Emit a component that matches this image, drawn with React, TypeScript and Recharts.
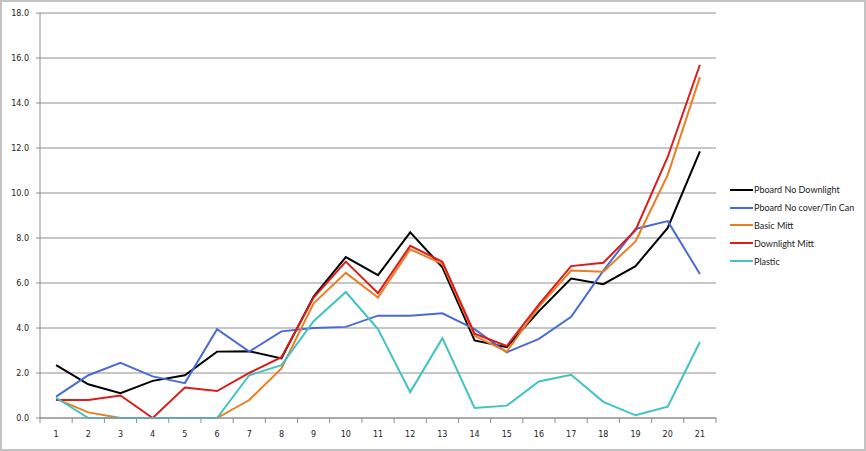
import React from 'react'
import { LineChart, Line, XAxis, YAxis, CartesianGrid } from 'recharts'

// readings per test point
const categories = [1, 2, 3, 4, 5, 6, 7, 8, 9, 10, 11, 12, 13, 14, 15, 16, 17, 18, 19, 20, 21]

const pboardNoDownlight = [2.35, 1.5, 1.1, 1.65, 1.9, 2.95, 2.97, 2.65, 5.4, 7.15, 6.35, 8.25, 6.7, 3.45, 3.15, 4.75, 6.2, 5.95, 6.75, 8.45, 11.85]
const pboardTinCan = [0.95, 1.9, 2.45, 1.85, 1.55, 3.95, 2.95, 3.85, 4.0, 4.05, 4.55, 4.55, 4.65, 3.95, 2.92, 3.52, 4.5, 6.55, 8.4, 8.75, 6.4]
const basicMitt = [0.85, 0.25, 0, 0, 0, 0, 0.8, 2.2, 5.1, 6.45, 5.35, 7.5, 6.85, 3.65, 2.95, 4.95, 6.55, 6.5, 7.85, 10.8, 15.15]
const downlightMitt = [0.8, 0.8, 1.0, 0, 1.35, 1.2, 2.0, 2.7, 5.35, 6.95, 5.55, 7.65, 6.95, 3.75, 3.2, 5.05, 6.75, 6.9, 8.35, 11.6, 15.7]
const plastic = [0.9, 0, 0, 0, 0, 0, 1.9, 2.35, 4.3, 5.6, 3.95, 1.15, 3.55, 0.45, 0.55, 1.62, 1.92, 0.72, 0.12, 0.5, 3.38]

const yTicks = [0, 2, 4, 6, 8, 10, 12, 14, 16, 18]

const series = [
    { key: 'pboardNoDownlight', name: 'Pboard No Downlight', color: '#000000', values: pboardNoDownlight },
    { key: 'pboardTinCan', name: 'Pboard No cover/Tin Can', color: '#4a6bd6', values: pboardTinCan },
    { key: 'basicMitt', name: 'Basic Mitt', color: '#ec7d22', values: basicMitt },
    { key: 'downlightMitt', name: 'Downlight Mitt', color: '#dc1b1b', values: downlightMitt },
    { key: 'plastic', name: 'Plastic', color: '#3fc3c3', values: plastic },
]

const data = categories.map((c, i) => {
    const row: any = { x: c }
    series.forEach(s => { row[s.key] = s.values[i] })
    return row
})

const W = 866
const H = 451
const margin = { top: 13, right: 150, bottom: 3, left: 0 }
const yAxisWidth = 40
const halfBand = (W - yAxisWidth - margin.right) / categories.length / 2
const gridColor = '#8e8e8e'
const tickFont = { fontSize: 8, fill: '#222', fontFamily: 'DejaVu Sans' }
const xLabelGap = 13

// excel-style category ticks: marks sit between the labels
function XTick(props: any) {
    const { x, y, payload, index } = props
    const axisY = y - xLabelGap
    return (
        <g>
            <line x1={x - halfBand} x2={x - halfBand} y1={axisY} y2={axisY + 5} stroke={gridColor} />
            {index === categories.length - 1 && (
                <line x1={x + halfBand} x2={x + halfBand} y1={axisY} y2={axisY + 5} stroke={gridColor} />
            )}
            <text x={x} y={y} dy="0.71em" textAnchor="middle" {...tickFont}>{payload.value}</text>
        </g>
    )
}

export default function App() {
    return (
        <div style={{ position: 'absolute', left: 0, top: 0, width: W, height: H, background: '#fff' }}>
            <LineChart width={W} height={H} data={data} margin={margin}>
                <CartesianGrid vertical={false} stroke={gridColor} />
                <XAxis
                    dataKey="x"
                    type="number"
                    domain={[0.5, 21.5]}
                    ticks={categories}
                    interval={0}
                    height={30}
                    tickSize={0}
                    tickMargin={xLabelGap}
                    tickLine={false}
                    axisLine={{ stroke: gridColor }}
                    tick={<XTick />}
                />
                <YAxis
                    width={yAxisWidth}
                    domain={[0, 18]}
                    ticks={yTicks}
                    interval={0}
                    tickSize={4}
                    tickMargin={7}
                    tickLine={{ stroke: gridColor }}
                    axisLine={{ stroke: gridColor }}
                    tick={tickFont}
                    tickFormatter={(v: number) => v.toFixed(1)}
                />
                {series.map(s => (
                    <Line
                        key={s.key}
                        dataKey={s.key}
                        name={s.name}
                        stroke={s.color}
                        strokeWidth={2}
                        dot={false}
                        isAnimationActive={false}
                    />
                ))}
            </LineChart>
            <div style={{ position: 'absolute', left: 730, top: 181, fontFamily: 'Lato', fontSize: 9, color: '#222' }}>
                {series.map(s => (
                    <div key={s.key} style={{ display: 'flex', alignItems: 'center', height: 17.8 }}>
                        <span style={{ display: 'inline-block', width: 23, height: 2, background: s.color, marginRight: 1 }} />
                        <span>{s.name}</span>
                    </div>
                ))}
            </div>
            <div style={{ position: 'absolute', left: 0, top: 0, width: W, height: H, boxSizing: 'border-box', border: '2px solid #c3c3c3', pointerEvents: 'none' }} />
        </div>
    )
}
